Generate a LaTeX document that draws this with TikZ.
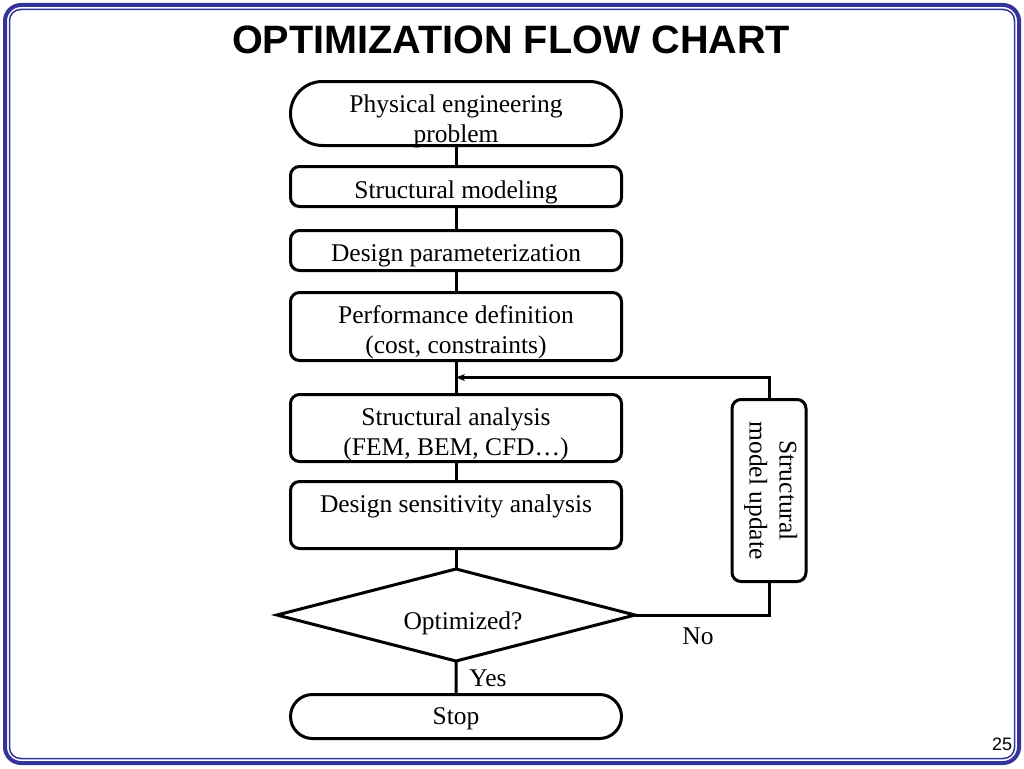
\documentclass[tikz,border=0pt]{standalone}
\usepackage{fontspec}
\setmainfont{Liberation Serif}
\newfontfamily\headfont{Liberation Sans}
\usetikzlibrary{positioning,shapes.geometric,shapes.misc,arrows.meta,calc}
\definecolor{frameblue}{RGB}{51,51,153}

\tikzset{
  boxtext/.style={font=\fontsize{25.5}{30}\selectfont, align=center},
  box/.style={draw, line width=3pt, rounded corners=9pt, minimum width=331pt, inner sep=0pt, outer sep=0pt, text depth=0pt, boxtext},
  term/.style={draw, line width=3pt, rounded rectangle, minimum width=331pt, inner sep=0pt, outer sep=0pt, text depth=0pt, boxtext},
  choice/.style={draw, line width=3pt, diamond, aspect=3.9, minimum width=358pt, minimum height=92pt, inner sep=0pt, outer sep=0pt, text depth=0pt, boxtext},
  link/.style={line width=3pt},
}

\begin{document}
\begin{tikzpicture}[x=1pt, y=-1pt]
  \useasboundingbox (0,0) rectangle (1024,768);
  %slide frame
  \draw[frameblue, line width=4pt, rounded corners=16pt] (5,5) rectangle (1019,763);
  \draw[frameblue, line width=1.5pt, rounded corners=11pt] (9.5,9.5) rectangle (1014.5,758.5);
  \node[anchor=base, font=\headfont\bfseries\fontsize{39.6}{44}\selectfont] (h1) at (511,53) {OPTIMIZATION FLOW CHART};
  \node[anchor=base, font=\headfont\fontsize{18}{20}\selectfont] (n1) at (1002,750) {25};
  %main column
  \node[term, minimum height=64pt, text height=57.5pt] (t1) at (456,113.5) {Physical engineering\\problem};
  \node[box, minimum height=40pt, text height=23.5pt, below =21pt of t1] (b1) {Structural modeling};
  \node[box, minimum height=40pt, text height=21.5pt, below =24pt of b1] (b2) {Design parameterization};
  \node[box, minimum height=68pt, text height=53.5pt, below =22pt of b2] (b3) {Performance definition\\(cost, constraints)};
  \node[box, minimum height=67pt, text height=55.5pt, below =34pt of b3] (b4) {Structural analysis\\(FEM, BEM, CFD\ldots)};
  \node[box, minimum height=67pt, text depth=22pt, below =20pt of b4] (b5) {Design sensitivity analysis};
  \node[choice, text height=29.5pt, below =20.5pt of b5] (d1) {\hspace*{14pt}Optimized?};
  \node[term, minimum height=44pt, below =33.5pt of d1] (t2) {Stop};
  %loop back box
  \node[box, rotate=-90, minimum width=182pt, minimum height=74pt, text depth=9pt] (u1) at (769,490.5) {Structural\\model update};
  \coordinate (c1) at ($(b3.south)!0.5!(b4.north)$);
  %connectors
  \draw[link] (t1) -- (b1);
  \draw[link] (b1) -- (b2);
  \draw[link] (b2) -- (b3);
  \draw[link] (b3) -- (b4);
  \draw[link] (b4) -- (b5);
  \draw[link] (b5) -- (d1);
  \draw[link] (d1) -- (t2);
  \draw[link] (d1.east) -| (u1);
  \draw[link, -{Stealth[length=9pt, width=7pt]}] (u1) |- (c1);
  %labels
  \node[boxtext] (l1) at (698,636) {No};
  \node[boxtext] (l2) at (488,678) {Yes};
\end{tikzpicture}
\end{document}
